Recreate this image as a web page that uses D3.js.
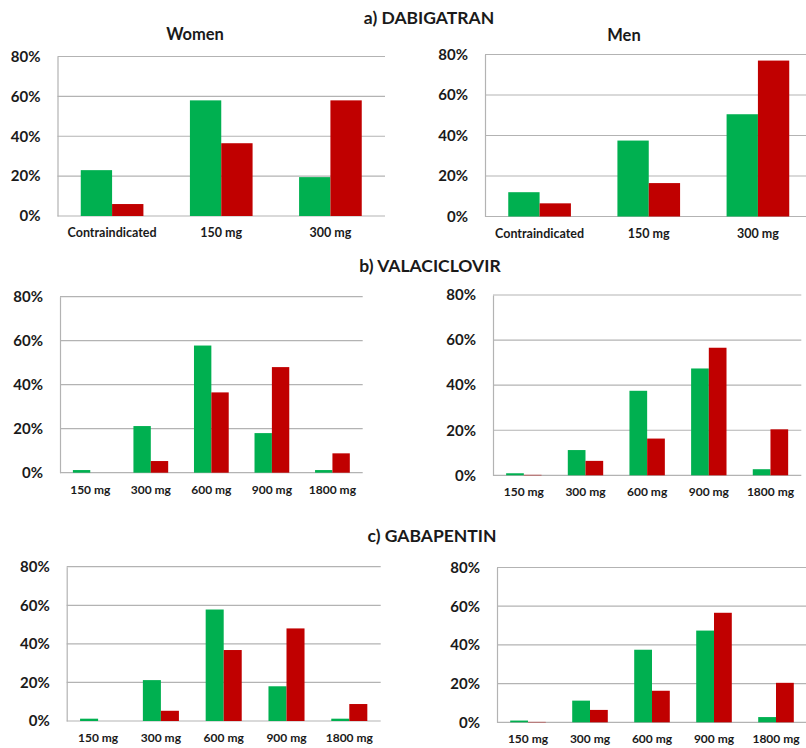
<!DOCTYPE html>
<html>
<head>
<meta charset="utf-8">
<script src="https://cdn.jsdelivr.net/npm/d3@7"></script>
<style>
  html, body { margin: 0; padding: 0; background: #fff; }
  svg { display: block; }
  text { font-family: Lato, "Open Sans", sans-serif; font-weight: bold; fill: #1a1a1a; }
</style>
</head>
<body>
<svg id="chart" width="806" height="748"></svg>
<script>
// ---- data ----
const dabigatranCategories = ["Contraindicated", "150 mg", "300 mg"];
const doseCategories = ["150 mg", "300 mg", "600 mg", "900 mg", "1800 mg"];
const yTickValues = [0, 20, 40, 60, 80];

const dabigatranWomenGreen = [23, 58, 19.5];
const dabigatranWomenRed   = [6, 36.5, 58];
const dabigatranMenGreen   = [12, 37.5, 50.5];
const dabigatranMenRed     = [6.5, 16.5, 77];

const valaciclovirWomenGreen = [1.2, 21.2, 57.8, 18, 1.2];
const valaciclovirWomenRed   = [0, 5.3, 36.5, 48, 8.8];
const valaciclovirMenGreen   = [0.9, 11.2, 37.5, 47.4, 2.7];
const valaciclovirMenRed     = [0.2, 6.4, 16.3, 56.6, 20.4];

const gabapentinWomenGreen = [1.2, 21.2, 57.8, 18, 1.2];
const gabapentinWomenRed   = [0, 5.3, 36.8, 48, 8.8];
const gabapentinMenGreen   = [0.9, 11.2, 37.5, 47.4, 2.7];
const gabapentinMenRed     = [0.2, 6.4, 16.3, 56.6, 20.4];

const sectionTitles = ["a) DABIGATRAN", "b) VALACICLOVIR", "c) GABAPENTIN"];
const sexTitles = ["Women", "Men"];

// ---- styles ----
const GREEN = "#00b050";
const RED = "#c00000";
const GRID = "#b3b3b3";

const svg = d3.select("#chart");

// Plot boxes for each panel
const panels = [
  { cats: dabigatranCategories, green: dabigatranWomenGreen, red: dabigatranWomenRed,
    x0: 57.5, x1: 385, top: 56.5, base: 216, catSize: 12.5, title: sexTitles[0], titleX: 195, titleY: 34 },
  { cats: dabigatranCategories, green: dabigatranMenGreen, red: dabigatranMenRed,
    x0: 485, x1: 812.5, top: 54.5, base: 216.5, catSize: 12.5, title: sexTitles[1], titleX: 624, titleY: 35 },
  { cats: doseCategories, green: valaciclovirWomenGreen, red: valaciclovirWomenRed,
    x0: 60, x1: 362.7, top: 296.7, base: 472.7, catSize: 12 },
  { cats: doseCategories, green: valaciclovirMenGreen, red: valaciclovirMenRed,
    x0: 493, x1: 801.3, top: 295, base: 475.3, catSize: 12 },
  { cats: doseCategories, green: gabapentinWomenGreen, red: gabapentinWomenRed,
    x0: 66.7, x1: 380.7, top: 566.7, base: 721, catSize: 12 },
  { cats: doseCategories, green: gabapentinMenGreen, red: gabapentinMenRed,
    x0: 497, x1: 807, top: 567.5, base: 722.3, catSize: 12 }
];

const sections = [
  { text: sectionTitles[0], x: 429, y: 17 },
  { text: sectionTitles[1], x: 430, y: 265 },
  { text: sectionTitles[2], x: 432, y: 535 }
];

sections.forEach(s => {
  svg.append("text")
    .attr("x", s.x).attr("y", s.y)
    .attr("text-anchor", "middle")
    .attr("dominant-baseline", "central")
    .style("font-size", "17.5px")
    .text(s.text);
});

panels.forEach(p => {
  const g = svg.append("g");

  const x = d3.scaleBand().domain(p.cats).range([p.x0, p.x1]).paddingInner(0).paddingOuter(0);
  const y = d3.scaleLinear().domain([0, 80]).range([p.base, p.top]);
  const barW = x.bandwidth() * 0.287;

  // horizontal gridlines
  g.append("g")
    .selectAll("line")
    .data(yTickValues)
    .join("line")
    .attr("x1", p.x0).attr("x2", p.x1)
    .attr("y1", d => y(d)).attr("y2", d => y(d))
    .attr("stroke", GRID).attr("stroke-width", 1.2);

  // y axis
  const yAxis = d3.axisLeft(y)
    .tickValues(yTickValues)
    .tickSize(0)
    .tickPadding(17)
    .tickFormat(d => d + "%");
  const ya = g.append("g").attr("transform", `translate(${p.x0},0)`).call(yAxis);
  ya.select(".domain").attr("stroke", GRID).attr("stroke-width", 1.2);
  ya.selectAll("text")
    .style("font-size", "15px")
    .style("font-family", "Lato, sans-serif")
    .attr("fill", "#1a1a1a");

  // bars
  const rows = p.cats.map((c, i) => ({ cat: c, green: p.green[i], red: p.red[i] }));
  g.append("g").selectAll("rect.green")
    .data(rows)
    .join("rect")
    .attr("x", d => x(d.cat) + x.bandwidth() / 2 - barW)
    .attr("y", d => y(d.green))
    .attr("width", barW)
    .attr("height", d => y(0) - y(d.green))
    .attr("fill", GREEN);
  g.append("g").selectAll("rect.red")
    .data(rows)
    .join("rect")
    .attr("x", d => x(d.cat) + x.bandwidth() / 2)
    .attr("y", d => y(d.red))
    .attr("width", barW)
    .attr("height", d => y(0) - y(d.red))
    .attr("fill", RED);

  // x axis labels
  const xAxis = d3.axisBottom(x).tickSize(0).tickPadding(12.5);
  const xa = g.append("g").attr("transform", `translate(0,${p.base})`).call(xAxis);
  xa.select(".domain").remove();
  xa.selectAll("text")
    .style("font-size", p.catSize + "px")
    .style("font-family", "Lato, sans-serif")
    .attr("fill", "#1a1a1a");

  if (p.title) {
    g.append("text")
      .attr("x", p.titleX).attr("y", p.titleY)
      .attr("text-anchor", "middle")
      .attr("dominant-baseline", "central")
      .style("font-size", "16.5px")
      .text(p.title);
  }
});
</script>
</body>
</html>
